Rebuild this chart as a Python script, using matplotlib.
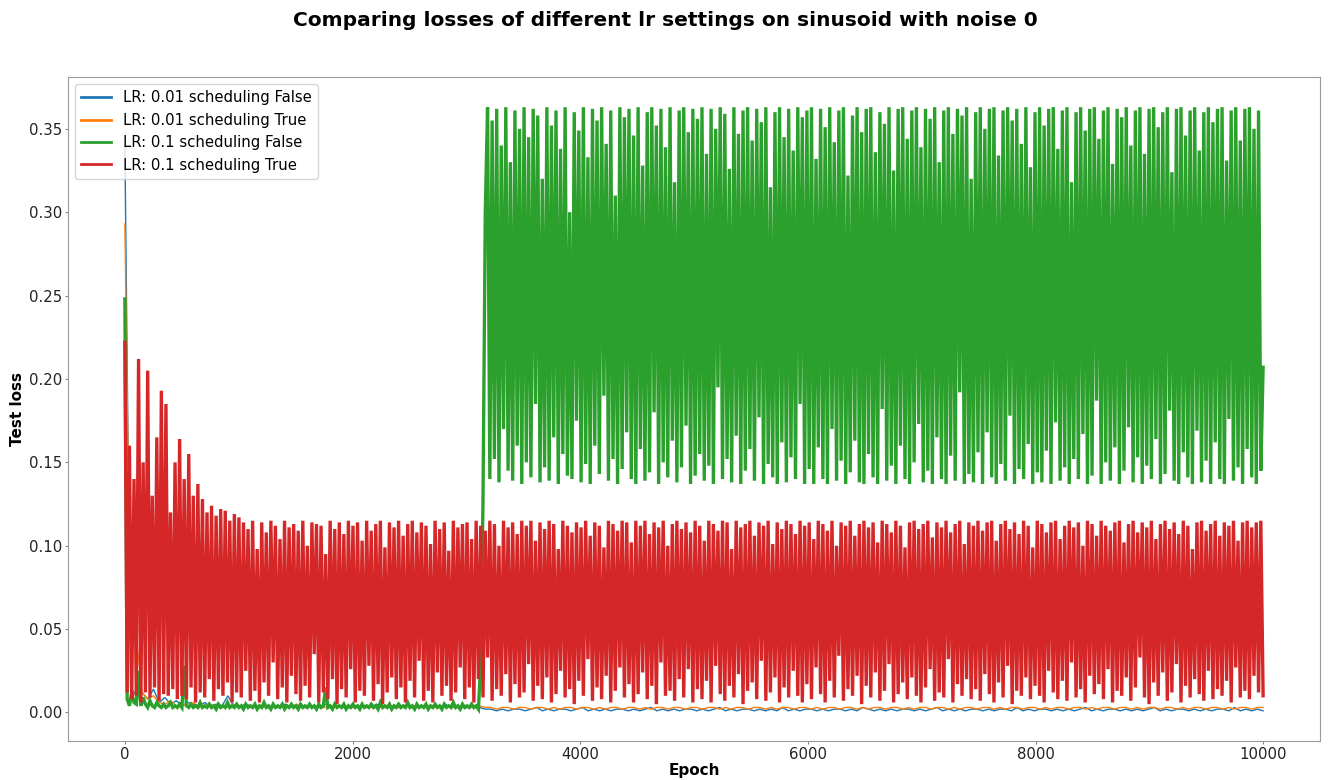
import numpy as np
import matplotlib
matplotlib.use("Agg")
import matplotlib.pyplot as plt

title = "Comparing losses of different lr settings on sinusoid with noise 0"
labels = ["LR: 0.01 scheduling False", "LR: 0.01 scheduling True",
          "LR: 0.1 scheduling False", "LR: 0.1 scheduling True"]
colors = ["#1f77b4", "#ff7f0e", "#2ca02c", "#d62728"]
last_epoch = 9999

# Test loss (blue / orange: one value every ~50 epochs)
loss_lr001_false = [
    .340,.015,.010,.012,.008,.014,.006,.009,.005,.007,.004,.006,.005,.004,.006,.003,.005,.004,.010,.004,.003,.005,.004,.003,.004,
    .003,.004,.003,.005,.003,.004,.003,.003,.004,.003,.005,.003,.004,.003,.003,.004,.003,.004,.003,.005,.003,.004,.003,.003,.004,
    .003,.004,.003,.003,.004,.003,.005,.003,.004,.003,.003,.004,.003,.002,.002,.001,.002,.001,.002,.002,.001,.002,.003,.001,.002,
    .001,.002,.002,.001,.002,.003,.001,.002,.001,.002,.001,.002,.002,.001,.002,.001,.002,.003,.001,.002,.001,.002,.001,.002,.002,
    .001,.002,.001,.002,.003,.001,.002,.001,.002,.002,.001,.002,.001,.002,.001,.003,.001,.002,.001,.002,.002,.001,.002,.001,.002,
    .002,.001,.002,.001,.003,.002,.001,.002,.001,.002,.001,.002,.002,.001,.002,.001,.002,.003,.001,.002,.001,.002,.001,.002,.002,
    .001,.002,.001,.002,.002,.001,.003,.001,.002,.001,.002,.002,.001,.002,.001,.002,.001,.002,.003,.001,.002,.001,.002,.002,.001,
    .002,.001,.002,.001,.002,.003,.001,.002,.001,.002,.002,.001,.002,.001,.002,.001,.002,.002,.001,.003,.001,.002,.001,.002,.001,
]
loss_lr001_true = [
    .293,.040,.045,.012,.008,.010,.006,.005,.007,.004,.005,.004,.006,.003,.004,.005,.003,.004,.003,.005,.003,.004,.003,.004,.003,
    .004,.003,.003,.004,.003,.005,.003,.003,.004,.003,.003,.004,.003,.004,.003,.003,.004,.003,.003,.004,.003,.003,.004,.003,.003,
    .004,.003,.003,.004,.003,.003,.004,.003,.003,.004,.003,.003,.004,.003,.003,.002,.003,.003,.002,.003,.003,.002,.003,.003,.002,
    .003,.002,.003,.003,.002,.003,.003,.002,.003,.002,.003,.003,.002,.003,.003,.002,.003,.002,.003,.003,.002,.003,.003,.002,.003,
    .003,.002,.003,.003,.002,.003,.002,.003,.003,.002,.003,.003,.002,.003,.002,.003,.003,.002,.003,.003,.002,.003,.002,.003,.003,
    .002,.003,.003,.002,.003,.002,.003,.003,.002,.003,.003,.002,.003,.002,.003,.003,.002,.003,.003,.002,.003,.002,.003,.003,.002,
    .003,.003,.002,.003,.002,.003,.003,.002,.003,.003,.002,.003,.002,.003,.003,.002,.003,.003,.002,.003,.002,.003,.003,.002,.003,
    .003,.002,.003,.002,.003,.003,.002,.003,.003,.002,.003,.002,.003,.003,.002,.003,.003,.002,.003,.002,.003,.003,.002,.003,.003,
]
# green / red: one value every ~20 epochs
loss_lr01_false = [
    .248,.008,.004,.012,.006,.005,.025,.004,.009,.005,.003,.007,.004,.003,.006,.004,.003,.005,.003,.004,.006,.003,.004,.003,.005,
    .003,.028,.004,.003,.005,.003,.004,.003,.006,.003,.004,.003,.005,.003,.004,.002,.005,.003,.004,.003,.006,.003,.004,.003,.005,
    .003,.004,.002,.005,.003,.004,.003,.005,.002,.004,.003,.006,.003,.004,.002,.005,.003,.004,.003,.005,.002,.004,.003,.005,.003,
    .004,.002,.005,.003,.004,.003,.005,.003,.004,.002,.005,.003,.004,.015,.003,.004,.002,.005,.003,.004,.003,.005,.002,.004,.003,
    .005,.003,.004,.002,.005,.003,.004,.003,.005,.003,.004,.002,.006,.003,.004,.003,.005,.002,.004,.003,.005,.003,.004,.003,.006,
    .003,.004,.002,.005,.003,.004,.003,.005,.002,.004,.003,.005,.003,.004,.002,.005,.003,.004,.003,.006,.003,.004,.002,.005,.003,
    .004,.003,.005,.003,.004,.002,.030,.127,.300,.363,.140,.355,.152,.362,.138,.340,.170,.363,.145,.330,.139,.361,.160,.350,.137,
    .363,.150,.345,.141,.362,.185,.358,.138,.320,.147,.363,.139,.352,.165,.361,.137,.338,.155,.363,.142,.300,.140,.360,.175,.349,
    .138,.363,.149,.333,.137,.362,.160,.355,.143,.363,.190,.341,.139,.361,.152,.310,.137,.363,.146,.357,.168,.362,.140,.346,.137,
    .363,.158,.328,.139,.360,.144,.363,.180,.352,.137,.362,.150,.339,.141,.363,.163,.318,.138,.361,.147,.363,.172,.348,.137,.362,
    .142,.356,.155,.363,.139,.335,.148,.362,.137,.350,.195,.363,.140,.359,.152,.326,.138,.363,.166,.347,.137,.361,.145,.363,.158,
    .343,.139,.362,.177,.354,.137,.363,.149,.315,.141,.360,.137,.363,.162,.345,.138,.362,.153,.337,.140,.363,.185,.357,.137,.361,
    .146,.363,.137,.332,.159,.362,.140,.351,.137,.363,.170,.342,.139,.361,.151,.363,.137,.322,.144,.358,.163,.363,.138,.348,.137,
    .362,.155,.363,.141,.336,.137,.360,.182,.353,.139,.363,.148,.325,.137,.362,.160,.363,.140,.344,.137,.361,.150,.363,.173,.339,
    .138,.362,.145,.356,.137,.363,.165,.330,.140,.361,.137,.363,.154,.347,.139,.362,.192,.358,.137,.363,.143,.320,.138,.360,.156,
    .363,.137,.350,.168,.362,.141,.363,.137,.334,.149,.361,.139,.363,.178,.355,.137,.362,.146,.341,.140,.363,.161,.327,.137,.360,
    .144,.363,.138,.352,.157,.362,.137,.363,.174,.338,.139,.361,.147,.363,.137,.318,.152,.360,.140,.363,.167,.349,.137,.362,.142,
    .363,.187,.344,.137,.361,.150,.363,.139,.329,.159,.362,.137,.357,.145,.363,.171,.340,.138,.361,.153,.363,.137,.335,.148,.362,
    .140,.363,.164,.351,.137,.360,.143,.363,.181,.324,.139,.362,.137,.363,.156,.346,.141,.361,.137,.363,.169,.337,.138,.360,.151,
    .363,.137,.354,.162,.362,.140,.363,.137,.331,.176,.361,.139,.363,.147,.343,.137,.362,.158,.363,.141,.350,.137,.361,.145,.207,
]
loss_lr01_true = [
    .222,.012,.160,.008,.140,.010,.212,.006,.150,.012,.205,.009,.130,.015,.165,.007,.193,.011,.185,.010,.120,.014,.150,.008,.164,
    .010,.140,.008,.155,.015,.130,.006,.137,.012,.128,.009,.120,.020,.124,.007,.118,.014,.122,.010,.121,.018,.115,.006,.119,.012,
    .117,.009,.114,.025,.110,.007,.115,.013,.098,.006,.114,.018,.108,.010,.115,.030,.112,.008,.104,.015,.115,.006,.111,.022,.113,
    .011,.109,.007,.115,.016,.100,.009,.114,.035,.113,.006,.112,.012,.095,.008,.115,.020,.110,.005,.114,.014,.107,.009,.115,.026,
    .112,.006,.114,.013,.103,.010,.115,.028,.109,.007,.113,.017,.115,.005,.099,.012,.114,.021,.111,.008,.115,.015,.106,.006,.113,
    .019,.115,.009,.108,.031,.114,.007,.112,.013,.101,.006,.115,.024,.110,.010,.114,.016,.097,.007,.115,.012,.111,.027,.113,.008,
    .114,.015,.104,.006,.115,.020,.112,.009,.109,.033,.115,.007,.113,.014,.100,.010,.115,.023,.111,.006,.114,.017,.107,.009,.115,
    .012,.112,.029,.115,.007,.103,.016,.114,.008,.110,.021,.115,.006,.113,.011,.098,.025,.115,.009,.112,.014,.108,.005,.114,.019,
    .111,.010,.115,.032,.106,.007,.114,.015,.112,.008,.099,.022,.115,.006,.113,.013,.109,.027,.115,.009,.114,.017,.102,.006,.115,
    .011,.112,.024,.115,.008,.107,.016,.114,.005,.111,.030,.115,.010,.100,.013,.113,.007,.115,.020,.110,.009,.114,.026,.108,.006,
    .115,.014,.112,.008,.103,.019,.115,.006,.113,.028,.109,.011,.115,.007,.114,.016,.098,.009,.115,.023,.111,.005,.113,.013,.115,
    .018,.106,.008,.114,.031,.112,.007,.115,.012,.101,.021,.114,.006,.110,.015,.115,.009,.113,.025,.107,.010,.115,.006,.112,.017,
    .114,.008,.104,.027,.115,.011,.113,.006,.109,.019,.115,.009,.100,.034,.114,.007,.112,.014,.115,.010,.106,.022,.113,.005,.115,
    .016,.111,.009,.114,.024,.102,.007,.115,.013,.113,.029,.108,.006,.115,.011,.112,.018,.099,.008,.114,.021,.115,.010,.110,.006,
    .113,.015,.115,.026,.105,.007,.114,.012,.111,.009,.115,.032,.108,.006,.113,.017,.115,.010,.101,.020,.114,.008,.112,.014,.115,
    .007,.109,.023,.114,.011,.115,.006,.103,.018,.113,.009,.115,.028,.110,.005,.114,.013,.107,.010,.115,.021,.112,.008,.099,.016,
    .115,.010,.113,.006,.108,.025,.114,.012,.115,.008,.104,.019,.112,.007,.115,.030,.111,.009,.114,.014,.100,.006,.115,.022,.113,
    .011,.106,.017,.115,.008,.112,.026,.109,.006,.114,.013,.115,.010,.102,.021,.113,.007,.115,.015,.108,.033,.114,.009,.111,.005,
    .115,.018,.104,.010,.113,.024,.115,.007,.110,.012,.114,.029,.107,.006,.115,.016,.112,.009,.098,.020,.114,.011,.115,.007,.109,
    .025,.113,.008,.115,.014,.106,.010,.114,.019,.112,.006,.115,.027,.103,.009,.114,.013,.115,.008,.111,.022,.114,.012,.115,.010,
]

series = [loss_lr001_false, loss_lr001_true, loss_lr01_false, loss_lr01_true]
widths = [1.0, 1.0, 2.4, 2.4]

plt.rcParams['font.family'] = ['DejaVu Sans']
fig = plt.figure(figsize=(13.3, 7.8), dpi=100)
ax = fig.add_axes([0.0511, 0.05, 0.9414, 0.8513])

for vals, lab, col, lw in zip(series, labels, colors, widths):
    epochs = np.linspace(0, last_epoch, len(vals))
    ax.plot(epochs, vals, color=col, lw=lw, label=lab, solid_joinstyle="miter")

ax.set_xlabel("Epoch", fontsize=11, fontweight="bold", labelpad=1)
ax.set_ylabel("Test loss", fontsize=11, fontweight="bold", labelpad=3)
ax.tick_params(labelsize=10.7, length=2.5, pad=1.5, color="#888888", labelcolor="#222222")
for s in ax.spines.values():
    s.set_color("#999999")
ax.set_yticks([0.0, 0.05, 0.10, 0.15, 0.20, 0.25, 0.30, 0.35])
ax.set_xticks([0, 2000, 4000, 6000, 8000, 10000])

leg = ax.legend(loc="upper left", fontsize=10.7)
for ln in leg.get_lines():
    ln.set_linewidth(2.0)

fig.suptitle(title, fontsize=14.5, fontweight="bold", y=0.974, va="center")
fig.savefig("out.png", dpi=100)
